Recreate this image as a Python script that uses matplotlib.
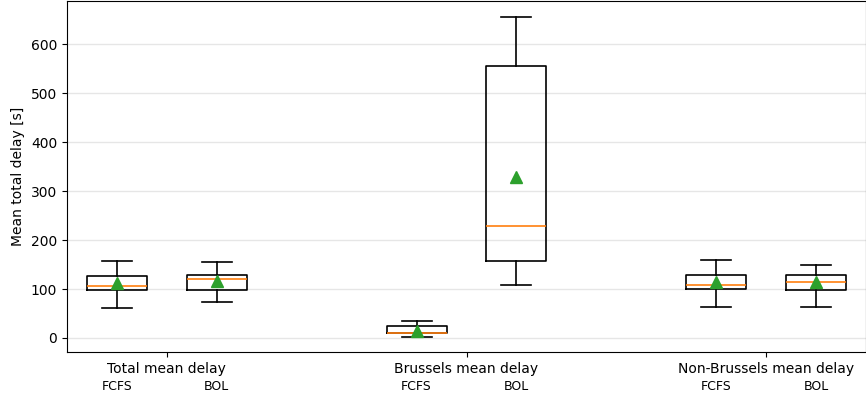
import matplotlib
matplotlib.use("Agg")
import matplotlib.pyplot as plt

# Box statistics (seconds)
groups = ["Total mean delay", "Brussels mean delay", "Non-Brussels mean delay"]
methods = ["FCFS", "BOL"]
whislo = [62, 74, 3, 108, 63, 63]
q1 = [98, 98, 10, 158, 99, 98]
med = [107, 121, 11, 229, 108, 115]
q3 = [127, 129, 25, 556, 129, 129]
whishi = [157, 156, 35, 656, 159, 150]
mean = [112, 117, 15, 328, 114, 114]
positions = [1, 2, 4, 5, 7, 8]

stats = []
for i in range(len(positions)):
    stats.append({"whislo": whislo[i], "q1": q1[i], "med": med[i], "q3": q3[i],
                  "whishi": whishi[i], "mean": mean[i], "fliers": []})

fig = plt.figure(figsize=(8.66, 4.01), dpi=100)
ax = fig.add_axes([0.0774, 0.1222, 0.9226, 0.8753])

lw = 1.2
ax.bxp(stats, positions=positions, widths=0.6, showmeans=True,
       boxprops=dict(linewidth=lw), whiskerprops=dict(linewidth=lw),
       capprops=dict(linewidth=lw), medianprops=dict(color="C1", linewidth=lw),
       meanprops=dict(marker="^", markerfacecolor="C2", markeredgecolor="C2",
                      markersize=8))

ax.set_xlim(0.5, 8.5)
ax.set_ylim(-28.6, 688)
ax.set_yticks([0, 100, 200, 300, 400, 500, 600])
ax.grid(axis="y", color="#e6e6e6", linewidth=1.0)
ax.set_axisbelow(True)

# group names on major ticks, method names on minor ticks
ax.set_xticks([1.5, 4.5, 7.5])
ax.set_xticklabels(groups)
ax.set_xticks(positions, minor=True)
ax.set_xticklabels(methods * 3, minor=True, fontsize=9)
ax.tick_params(axis="x", which="minor", length=0, pad=20)

ax.set_ylabel("Mean total delay [s]")

fig.savefig("out.png", dpi=100)
